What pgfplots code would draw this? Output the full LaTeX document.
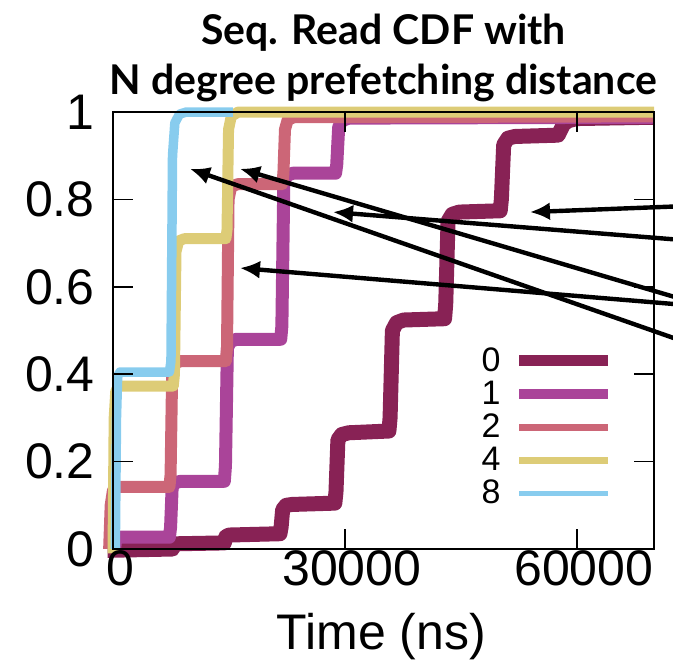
\documentclass[border=0pt]{standalone}
\usepackage{fontspec}
\setmainfont{Liberation Sans}
\newfontfamily\titlefont{Lato}
\usepackage{pgfplots}
\pgfplotsset{compat=1.18}
\usetikzlibrary{arrows.meta}

\definecolor{c0}{HTML}{882255}
\definecolor{c1}{HTML}{AA4499}
\definecolor{c2}{HTML}{CC6677}
\definecolor{c4}{HTML}{DDCC77}
\definecolor{c8}{HTML}{88CCEE}

\begin{document}
\begin{tikzpicture}
\begin{axis}[
  scale only axis, width=270.5pt, height=218.5pt,
  xmin=0, xmax=70000, ymin=0, ymax=1,
  clip=false, axis on top,
  scaled x ticks=false,
  xtick={0,30000,60000}, xticklabels={0,30000,60000},
  ytick={0,0.2,0.4,0.6,0.8,1}, yticklabels={0,0.2,0.4,0.6,0.8,1},
  /pgf/number format/assume math mode=true,
  tick align=inside, major tick length=10pt,
  tick style={black, line width=0.8pt},
  axis line style={line width=1pt},
  ticklabel style={font=\fontsize{25}{30}\selectfont},
  yticklabel style={xshift=-5.7pt},
  xticklabel style={xshift=3.5pt, yshift=2.8pt},
  xlabel={Time (ns)},
  xlabel style={font=\fontsize{25}{30}\selectfont, at={(axis description cs:0.5,0)},
    anchor=north, yshift=-32pt, xshift=-1pt, inner sep=0pt},
  title={Seq. Read CDF with\\N degree prefetching distance},
  title style={font=\titlefont\bfseries\fontsize{20.5}{25}\selectfont, align=center,
    at={(0.5,1)}, anchor=south, yshift=-1pt, inner sep=0pt},
  legend plot pos=right, legend cell align=right,
  legend style={draw=none, fill=none, at={(0.926,0.462)}, anchor=north east,
    inner sep=0pt, row sep=3.3pt, font=\rmfamily\fontsize{17}{19}\selectfont,
    nodes={inner sep=0pt}},
]
\addplot[c0, line width=7.5pt, line join=round, mark=none,
  legend image code/.code={\draw[c0, line width=5.5pt] (0pt,0pt) -- (44.5pt,0pt);}]
  coordinates {
  (-700,-0.003) (7700,0.0) (7900,0.01) (8300,0.012) (14400,0.014) (14600,0.028)
  (15000,0.032) (21600,0.035) (21750,0.05) (21950,0.09) (22400,0.10) (23200,0.102)
  (28700,0.105) (28850,0.13) (29100,0.25) (29600,0.262) (30500,0.266) (35700,0.27)
  (35850,0.30) (36150,0.50) (36700,0.518) (37600,0.524) (42900,0.527) (43050,0.56)
  (43350,0.75) (43900,0.766) (44800,0.771) (50100,0.774) (50250,0.80) (50550,0.925)
  (51100,0.94) (52000,0.944) (57600,0.947) (57900,0.958) (58300,0.972) (58900,0.98)
  (60000,0.985) (70000,0.988)
};
\addlegendentry{0\rule{6.5pt}{0pt}}
\addplot[c1, line width=6.5pt, line join=round, mark=none,
  legend image code/.code={\draw[c1, line width=5pt] (0pt,0pt) -- (44.5pt,0pt);}]
  coordinates {
  (200,0) (350,0.02) (600,0.027) (7300,0.027) (7450,0.05) (7650,0.14) (8000,0.152)
  (8800,0.155) (14400,0.155) (14550,0.19) (14800,0.46) (15200,0.475) (16000,0.48)
  (21700,0.48) (21850,0.51) (22100,0.84) (22500,0.855) (23300,0.86) (28800,0.86)
  (28950,0.88) (29200,0.965) (29600,0.98) (30500,0.986) (70000,0.988)
};
\addlegendentry{1\rule{6.5pt}{0pt}}
\addplot[c2, line width=6pt, line join=round, mark=none,
  legend image code/.code={\draw[c2, line width=3.7pt] (0pt,0pt) -- (44.5pt,0pt);}]
  coordinates {
  (-500,0) (-300,0.10) (0,0.135) (400,0.142) (7300,0.142) (7450,0.17) (7650,0.40)
  (8000,0.425) (8800,0.43) (14600,0.43) (14750,0.46) (14950,0.80) (15300,0.83)
  (16200,0.835) (21900,0.835) (22050,0.86) (22250,0.96) (22600,0.982) (23400,0.988)
  (70000,0.99)
};
\addlegendentry{2\rule{6.5pt}{0pt}}
\addplot[c4, line width=5.5pt, line join=round, mark=none,
  legend image code/.code={\draw[c4, line width=3.3pt] (0pt,0pt) -- (44.5pt,0pt);}]
  coordinates {
  (0,-0.01) (150,0.30) (350,0.36) (700,0.373) (7800,0.373) (7950,0.40) (8150,0.68)
  (8500,0.705) (9200,0.71) (14600,0.71) (14750,0.73) (14950,0.96) (15300,0.99)
  (16200,1.0) (70000,1.0)
};
\addlegendentry{4\rule{6.5pt}{0pt}}
\addplot[c8, line width=4.75pt, line join=round, mark=none,
  legend image code/.code={\draw[c8, line width=2.7pt] (0pt,0pt) -- (44.5pt,0pt);}]
  coordinates {
  (300,0) (450,0.30) (600,0.395) (900,0.405) (7300,0.405) (7500,0.43) (7700,0.90)
  (8000,0.975) (8600,0.995) (9500,1.0) (15500,1.0)
};
\addlegendentry{8\rule{6.5pt}{0pt}}
\draw[line width=2.2pt, -{Latex[length=10pt,width=9pt]}] (axis cs:73000,0.784) -- (axis cs:53950,0.771);
\draw[line width=2.2pt, -{Latex[length=10pt,width=9pt]}] (axis cs:73000,0.708) -- (axis cs:28470,0.771);
\draw[line width=2.2pt, -{Latex[length=10pt,width=9pt]}] (axis cs:73000,0.560) -- (axis cs:16430,0.643);
\draw[line width=2.2pt, -{Latex[length=10pt,width=9pt]}] (axis cs:73000,0.480) -- (axis cs:9960,0.870);
\draw[line width=2.2pt, -{Latex[length=10pt,width=9pt]}] (axis cs:73000,0.575) -- (axis cs:16430,0.870);
\end{axis}
\pgfresetboundingbox
\path[use as bounding box] ([shift={(-56.5pt,-57.5pt)}]current axis.south west)
  rectangle ([shift={(9.5pt,56pt)}]current axis.north east);
\end{tikzpicture}
\end{document}
